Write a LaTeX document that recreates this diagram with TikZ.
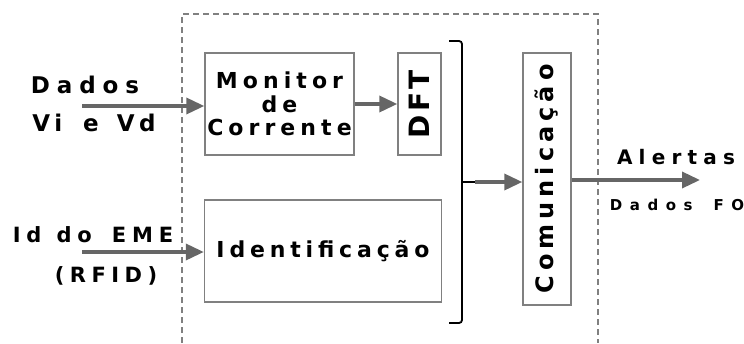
\documentclass[tikz,border=0pt]{standalone}
\usepackage{fontspec}
\usetikzlibrary{arrows.meta}
\newcommand\lf[3]{\fontspec{DejaVu Sans}[LetterSpace=#2]\bfseries\fontsize{#1}{#3}\selectfont}
\definecolor{boxgray}{HTML}{808080}
\definecolor{arrgray}{HTML}{666666}
\begin{document}
\begin{tikzpicture}[x=1pt,y=-1pt,
  blk/.style={draw=boxgray,line width=1.4pt,inner sep=0pt,align=center},
  txt/.style={inner sep=0pt,align=center},
  arr/.style={draw=arrgray,line width=3.5pt,-{Triangle[length=18pt,width=16pt]}},
  frame/.style={draw=boxgray,line width=1.4pt,dash pattern=on 6pt off 4pt}]
\useasboundingbox (0,0) rectangle (744,343);
\draw[frame] (182,343) -- (182,14) -- (598,14) -- (598,343);
% blocks
\node[blk,minimum width=149pt,minimum height=102pt,font=\lf{22}{23}{23.5}] (mon) at (279.5,104) {Monitor\\de\\Corrente};
\node[blk,minimum width=43pt,minimum height=102pt,font=\lf{28}{12}{28}] (dft) at (419.5,104) {\rotatebox{90}{DFT}};
\node[blk,minimum width=237pt,minimum height=102pt,font=\lf{22}{22}{24}] (ide) at (323,251) {Identificação};
\node[blk,minimum width=48pt,minimum height=252pt,font=\lf{24}{21}{24}] (com) at (547,179) {\rotatebox{90}{Comunicação}};
% labels
\node[txt,font=\lf{23}{30}{24}] (dados) at (85,85) {Dados};
\node[txt,font=\lf{23}{20}{24}] (vivd) at (94,123) {Vi\hspace{21pt}e\hspace{18pt}Vd};
\node[txt,font=\lf{21}{28}{24}] (ideme) at (93,235) {Id\hspace{15pt}do\hspace{20pt}EME};
\node[txt,font=\lf{21}{26}{24}] (rfid) at (106,276) {(RFID)};
\node[txt,font=\lf{20}{31}{22}] (alert) at (676,157) {Alertas};
\node[txt,font=\lf{15}{50}{16}] (dfo) at (677,205) {Dados\hspace{21pt}FO};
% coordinates
\coordinate (in1) at (82,106);
\coordinate (in2) at (82,252);
\coordinate (bt) at (462,182);
\coordinate (bs) at (475,182);
\coordinate (out) at (700,180);
% brace
\draw[black,line width=1.8pt,rounded corners=3pt] (449,41) -- (462,41) -- (bt) -- (462,323) -- (449,323);
\draw[black,line width=1.8pt] (bt) -- (bs);
% arrows
\draw[arr] (in1) -- (in1 -| mon.west);
\draw[arr] (mon.east) -- (dft.west);
\draw[arr] (in2) -- (in2 -| ide.west);
\draw[arr] (bs) -- (bs -| com.west);
\draw[arr] (com.east |- out) -- (out);
\end{tikzpicture}
\end{document}
